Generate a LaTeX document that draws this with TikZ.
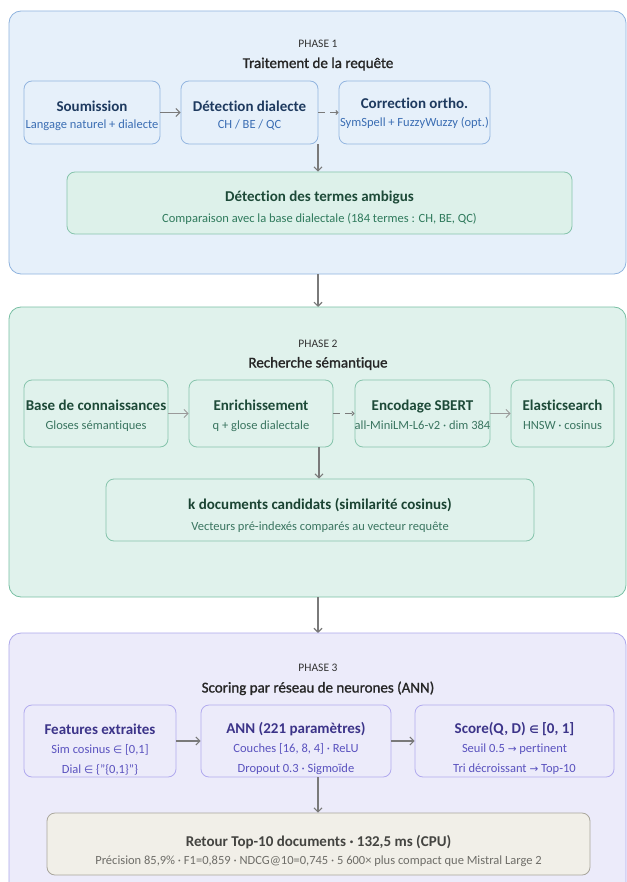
\documentclass[tikz,border=0pt]{standalone}
\usepackage{fontspec}
\setmainfont{Carlito}[Ligatures=NoCommon]
\newfontfamily\semif{Carlito}[FakeBold=1.2,Ligatures=NoCommon]
\newfontfamily\symf{DejaVu Sans}
\usetikzlibrary{arrows.meta}
\definecolor{pAbg}{HTML}{E6F0FA}
\definecolor{pAbd}{HTML}{8FB3DE}
\definecolor{pAnb}{HTML}{93B5E0}
\definecolor{pAti}{HTML}{1E3A5F}
\definecolor{pAsu}{HTML}{3A6DB3}
\definecolor{ambf}{HTML}{DDF1EA}
\definecolor{ambb}{HTML}{86C4AC}
\definecolor{ambt}{HTML}{1D4A38}
\definecolor{ambs}{HTML}{2F7A5C}
\definecolor{pBbg}{HTML}{E0F2EC}
\definecolor{pBbd}{HTML}{78BFA3}
\definecolor{pBnb}{HTML}{86C4AC}
\definecolor{pBti}{HTML}{1D4A38}
\definecolor{pBsu}{HTML}{3A7560}
\definecolor{pCbg}{HTML}{ECEBFA}
\definecolor{pCbd}{HTML}{ADA8EA}
\definecolor{pCnb}{HTML}{B1AAEE}
\definecolor{pCti}{HTML}{3C3489}
\definecolor{pCsu}{HTML}{5A52BF}
\definecolor{retf}{HTML}{F1EFE8}
\definecolor{retb}{HTML}{A9A69C}
\definecolor{rett}{HTML}{444441}
\definecolor{rets}{HTML}{6E6D68}
\definecolor{arr}{HTML}{7A7A7A}
\definecolor{arrl}{HTML}{9A9A9A}
\newcommand\Tf{\fontsize{15}{19}\selectfont\bfseries}
\newcommand\Sf{\fontsize{12.5}{19}\selectfont}
\newcommand\sy[1]{{\symf\fontsize{10.5}{19}\selectfont #1}}
% two-line and three-line text blocks, baseline = first line
\newcommand\twol[5]{\begin{tabular}[t]{@{}c@{}}{\Tf\color{#1}#2}\\[#5]{\Sf\color{#3}#4}\end{tabular}}
\newcommand\thrl[6]{\begin{tabular}[t]{@{}c@{}}{\Tf\color{#1}#2}\\[#6]{\Sf\color{#3}#4}\\[#6]{\Sf\color{#3}#5}\end{tabular}}
\tikzset{
  phasebox/.style={rounded corners=12pt, line width=0.8pt},
  nodebox/.style={rounded corners=8pt, line width=0.8pt, inner sep=0pt},
  tx/.style={inner sep=0pt, anchor=base, font=\fontsize{12}{19}\selectfont},
  plabel/.style={inner sep=0pt, anchor=base, font=\fontsize{11.5}{12}\selectfont, text=black!80},
  ptitle/.style={inner sep=0pt, anchor=base, font=\semif\fontsize{15}{16}\selectfont, text=black!85},
  flow/.style={draw=arr, line width=1.1pt, -{Straight Barb[length=4pt,width=8pt]}},
  flowl/.style={draw=arrl, line width=0.9pt, -{Straight Barb[length=4pt,width=8pt]}},
  flowd/.style={draw=arr, line width=1.1pt, dash pattern=on 7pt off 5pt, -{Straight Barb[length=2pt,width=4pt]}},
}
\begin{document}
\begin{tikzpicture}[x=1pt,y=-1pt]
\useasboundingbox (0,0) rectangle (626,882);
% ---------- Phase 1
\draw[phasebox, fill=pAbg, draw=pAbd] (9,11) rectangle (626,274);
\node[plabel] (l1) at (318,48) {PHASE 1};
\node[ptitle] (t1) at (318,68) {Traitement de la requête};
\node[nodebox, draw=pAnb, fill=pAbg, minimum width=136, minimum height=63] (soum) at (92,112.5) {};
\node[nodebox, draw=pAnb, fill=pAbg, minimum width=137, minimum height=63] (detd) at (249.5,112.5) {};
\node[nodebox, draw=pAnb, fill=pAbg, minimum width=151, minimum height=63] (corr) at (414.5,112.5) {};
\node[nodebox, draw=ambb, fill=ambf, minimum width=505, minimum height=62] (amb) at (319.5,203) {};
\node[tx] (soumT) at (92,111.5) {\twol{pAti}{Soumission}{pAsu}{Langage naturel + dialecte}{-1.5pt}};
\node[tx] (detdT) at (249.5,111.5) {\twol{pAti}{Détection dialecte}{pAsu}{CH / BE / QC}{-1.5pt}};
\node[tx] (corrT) at (414.5,108.5) {\twol{pAti}{Correction ortho.}{pAsu}{SymSpell + FuzzyWuzzy (opt.)}{-0.5pt}};
\node[tx] (ambT) at (319.5,201.5) {\twol{ambt}{Détection des termes ambigus}{ambs}{Comparaison avec la base dialectale (184 termes : CH, BE, QC)}{2pt}};
\draw[flow] (soum) -- (detd);
\draw[flowd] (detd) -- (corr);
\draw[flow] (detd.south -| 318,0) -- (amb.north -| 318,0);
% ---------- Phase 2
\coordinate (p1b) at (318,274);
\coordinate (p2t) at (318,307);
\draw[flow] (p1b) -- (p2t);
\draw[phasebox, fill=pBbg, draw=pBbd] (9,307) rectangle (626,597);
\node[plabel] (l2) at (318,347.5) {PHASE 2};
\node[ptitle] (t2) at (318,367.5) {Recherche sémantique};
\node[nodebox, draw=pBnb, fill=pBbg, minimum width=144, minimum height=67] (base) at (96,413.5) {};
\node[nodebox, draw=pBnb, fill=pBbg, minimum width=144, minimum height=67] (enr) at (261,413.5) {};
\node[nodebox, draw=pBnb, fill=pBbg, minimum width=135, minimum height=67] (enc) at (422.5,413.5) {};
\node[nodebox, draw=pBnb, fill=pBbg, minimum width=103, minimum height=67] (ela) at (562.5,413.5) {};
\node[nodebox, draw=pBnb, fill=pBbg, minimum width=428, minimum height=62] (kdoc) at (320,510) {};
\node[tx] (baseT) at (96,410) {\twol{pBti}{Base de connaissances}{pBsu}{Gloses sémantiques}{0.5pt}};
\node[tx] (enrT) at (261,410) {\twol{pBti}{Enrichissement}{pBsu}{q + glose dialectale}{0.5pt}};
\node[tx] (encT) at (422.5,410) {\twol{pBti}{Encodage SBERT}{pBsu}{all-MiniLM-L6-v2 · dim 384}{0.5pt}};
\node[tx] (elaT) at (562.5,410) {\twol{pBti}{Elasticsearch}{pBsu}{HNSW · cosinus}{0.5pt}};
\node[tx] (kdocT) at (320,509) {\twol{pBti!90!black}{k documents candidats (similarité cosinus)}{pBsu}{Vecteurs pré-indexés comparés au vecteur requête}{2pt}};
\draw[flowl] (base) -- (enr);
\draw[flowd] (enr) -- (enc);
\draw[flowl] (enc) -- (ela);
\draw[flow] (enr.south -| 319,0) -- (kdoc.north -| 319,0);
% ---------- Phase 3
\coordinate (p2b) at (318,597);
\coordinate (p3t) at (318,633);
\draw[flow] (p2b) -- (p3t);
\draw[phasebox, fill=pCbg, draw=pCbd] (9,633) rectangle (626,900);
\node[plabel] (l3) at (318,671.5) {PHASE 3};
\node[ptitle] (t3) at (318,692.5) {Scoring par réseau de neurones (ANN)};
\node[nodebox, draw=pCnb, fill=pCbg, minimum width=152, minimum height=72] (feat) at (100,741) {};
\node[nodebox, draw=pCnb, fill=pCbg, minimum width=190, minimum height=72] (ann) at (296,741) {};
\node[nodebox, draw=pCnb, fill=pCbg, minimum width=199, minimum height=72] (score) at (514.5,741) {};
\node[nodebox, draw=retb, fill=retf, minimum width=543, minimum height=62] (ret) at (318.5,844) {};
\node[tx] (featT) at (100,734) {\thrl{pCti}{Features extraites}{pCsu}{Sim cosinus \sy{∈} [0,1]}{Dial \sy{∈} \{"\{0,1\}"\}}{0.5pt}};
\node[tx] (annT) at (296,733) {\thrl{pCti}{ANN (221 paramètres)}{pCsu}{Couches [16, 8, 4] · ReLU}{Dropout 0.3 · Sigmoïde}{0.5pt}};
\node[tx] (scoreT) at (514.5,733) {\thrl{pCti}{Score(Q, D) \sy{∈} [0, 1]}{pCsu}{Seuil 0.5 \sy{→} pertinent}{Tri décroissant \sy{→} Top-10}{0.5pt}};
\node[tx] (retT) at (318.5,846) {\twol{rett}{Retour Top-10 documents · 132,5 ms (CPU)}{rets}{Précision 85,9\% · F1=0,859 · NDCG@10=0,745 · 5 600× plus compact que Mistral Large 2}{-1pt}};
\draw[flow] (feat) -- (ann);
\draw[flow] (ann) -- (score);
\draw[flow] (ann.south -| 318,0) -- (ret.north -| 318,0);
\end{tikzpicture}
\end{document}
